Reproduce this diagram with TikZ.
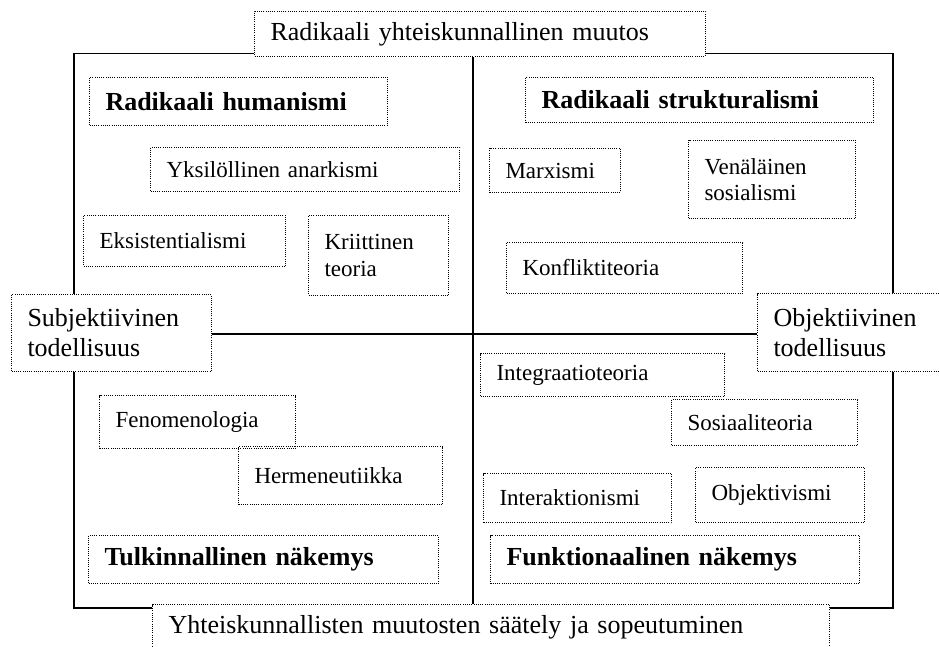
\documentclass[tikz,border=0pt]{standalone}
\usepackage{fontspec}
\setmainfont{Liberation Serif}
\usepackage{tikz}

\begin{document}
\begin{tikzpicture}[x=1pt,y=-1pt,
laatikko/.style={draw,line width=1pt,dash pattern=on 1pt off 1.2pt,anchor=north west,
  inner xsep=16pt,inner ysep=0pt,align=left,font=\fontsize{23}{26.5}\selectfont},
otsikko/.style={laatikko,font=\fontsize{26}{30}\selectfont\bfseries},
akseli/.style={laatikko,font=\fontsize{26}{30}\selectfont},
kehys/.style={line width=1.6pt}]
\useasboundingbox (0,0) rectangle (939,647);
\node[akseli,text width=419pt,minimum height=45pt] (ylaosa) at (254,11) {Radikaali yhteiskunnallinen muutos};
\node[akseli,text width=645pt,minimum height=46pt] (alaosa) at (152,604) {Yhteiskunnallisten muutosten säätely ja sopeutuminen};
\node[akseli,text width=168pt,minimum height=77pt] (subj) at (11,294) {Subjektiivinen\\todellisuus};
\node[akseli,text width=178pt,minimum height=78pt] (obj) at (757,293) {Objektiivinen\\todellisuus};
\node[otsikko,text width=266pt,minimum height=48pt] (rhum) at (89,77) {Radikaali humanismi};
\node[laatikko,text width=277pt,minimum height=44pt] (anark) at (150,147) {Yksilöllinen anarkismi};
\node[laatikko,text width=170pt,minimum height=51pt] (eksist) at (83,215) {Eksistentialismi};
\node[laatikko,text width=108pt,minimum height=80pt] (kriit) at (308,215) {Kriittinen\\teoria};
\node[otsikko,text width=316pt,minimum height=45pt] (rstrukt) at (525,77) {Radikaali strukturalismi};
\node[laatikko,text width=99pt,minimum height=44pt] (marx) at (489,148) {Marxismi};
\node[laatikko,text width=135pt,minimum height=78pt] (venal) at (688,140) {Venäläinen\\sosialismi};
\node[laatikko,text width=204pt,minimum height=51pt] (konfl) at (506,242) {Konfliktiteoria};
\node[laatikko,text width=164pt,minimum height=53pt] (fenom) at (99,395) {Fenomenologia};
\node[laatikko,text width=172pt,minimum height=58pt] (herm) at (238,446) {Hermeneutiikka};
\node[otsikko,text width=318pt,minimum height=48pt] (tulk) at (88,535) {Tulkinnallinen näkemys};
\node[laatikko,text width=212pt,minimum height=43pt] (integr) at (480,353) {Integraatioteoria};
\node[laatikko,text width=154pt,minimum height=46pt] (sosiaali) at (671,399) {Sosiaaliteoria};
\node[laatikko,text width=156pt,minimum height=49pt] (interakt) at (483,473) {Interaktionismi};
\node[laatikko,text width=137pt,minimum height=55pt] (objektiv) at (695,467) {Objektivismi};
\node[otsikko,text width=337pt,minimum height=48pt] (funkt) at (490,535) {Funktionaalinen näkemys};
\coordinate (nw) at (74,53.5);
\coordinate (ne) at (893,53.5);
\coordinate (se) at (893,608);
\coordinate (sw) at (74,608);
\coordinate (keski) at (473,334);
\draw[kehys] (ylaosa.west |- nw) -- (nw) -- (nw |- subj.north);
\draw[kehys] (nw |- subj.south) -- (sw) -- (alaosa.west |- sw);
\draw[kehys] (ylaosa.east |- ne) -- (ne) -- (ne |- obj.north);
\draw[kehys] (ne |- obj.south) -- (se) -- (alaosa.east |- se);
\draw[kehys] (keski |- ylaosa.south) -- (keski |- alaosa.north);
\draw[kehys] (subj.east |- keski) -- (obj.west |- keski);
\end{tikzpicture}
\end{document}
